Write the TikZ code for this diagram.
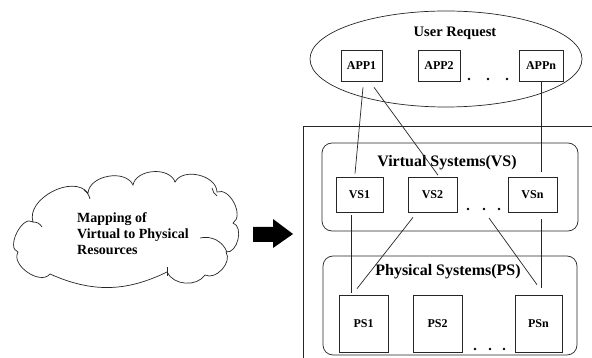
\documentclass[tikz,border=0pt]{standalone}
\usepackage{fontspec}
\setmainfont{Liberation Serif}
\usetikzlibrary{shapes.symbols,shapes.geometric,calc}
\tikzset{
  ln/.style={line width=0.7pt, draw=black!85},
  box/.style={draw=black!85, line width=0.7pt, rectangle, inner sep=0pt, font=\bfseries\fontsize{12}{14}\selectfont},
  grp/.style={draw=black!85, line width=0.7pt, rectangle, rounded corners=10pt, inner sep=0pt},
  ttl/.style={inner sep=0pt, font=\bfseries\fontsize{16}{18}\selectfont},
  dotf/.style={fill=black, circle, inner sep=0pt, minimum size=2.6pt},
}
\begin{document}
\begin{tikzpicture}[x=1pt,y=-1pt]
\clip (0,0) rectangle (592,358);
\fill[white] (0,0) rectangle (592,358);
% outer frame
\draw[ln] (303,420) -- (303,126) -- (640,126);
% user request ellipse
\node[draw=black!85, line width=0.7pt, ellipse, minimum width=272pt, minimum height=96pt, inner sep=0pt] (ur) at (446,59) {};
\node[inner sep=0pt, font=\bfseries\fontsize{14.5}{16}\selectfont] (urt) at (455,33) {User Request};
\node[box, minimum width=41pt, minimum height=31pt] (app1) at (361.5,65.5) {APP1};
\node[box, minimum width=42pt, minimum height=31pt] (app2) at (439,65.5) {APP2};
\node[box, minimum width=44pt, minimum height=31pt] (appn) at (541,65.5) {APPn};
\node[dotf] (ad1) at (469,79) {};
\node[dotf] (ad2) at (488,79) {};
\node[dotf] (ad3) at (507,79) {};
% virtual systems
\node[grp, minimum width=256pt, minimum height=88pt] (vsg) at (450,187) {};
\node[ttl] (vst) at (447,163) {Virtual Systems(VS)};
\node[box, minimum width=47pt, minimum height=35pt] (vs1) at (359.5,194.5) {VS1};
\node[box, minimum width=49pt, minimum height=35pt] (vs2) at (432.5,194.5) {VS2};
\node[box, minimum width=49pt, minimum height=35pt] (vsn) at (532.5,194.5) {VSn};
\node[dotf] (vd1) at (468,209) {};
\node[dotf] (vd2) at (484,209) {};
\node[dotf] (vd3) at (499,209) {};
% physical systems
\node[grp, minimum width=254pt, minimum height=99pt] (psg) at (450,305.5) {};
\node[ttl] (pst) at (448,272) {Physical Systems(PS)};
\node[box, minimum width=49pt, minimum height=57pt] (ps1) at (363.5,323.5) {PS1};
\node[box, minimum width=49pt, minimum height=57pt] (ps2) at (437.5,323.5) {PS2};
\node[box, minimum width=47pt, minimum height=57pt] (psn) at (538.5,323.5) {\raisebox{-5pt}{PSn}};
\node[dotf] (pd1) at (475,349) {};
\node[dotf] (pd2) at (490,349) {};
\node[dotf] (pd3) at (504,349) {};
% connectors
\draw[ln] ([xshift=1.5pt,yshift=-6pt]app1.south) -- ([xshift=-4.5pt,yshift=3pt]vs1.north);
\draw[ln] ([xshift=12.5pt,yshift=-6pt]app1.south) -- ([xshift=5.5pt,yshift=1.5pt]vs2.north);
\draw[ln] ([yshift=-1pt]appn.south) -- ([xshift=8.5pt,yshift=5pt]vsn.north);
\draw[ln] ([xshift=-8.5pt,yshift=-3pt]vs1.south) -- ([xshift=-12.5pt,yshift=2pt]ps1.north);
\draw[ln] ([xshift=-19.5pt,yshift=-5pt]vs2.south) -- ([xshift=-6.5pt,yshift=6pt]ps1.north);
\draw[ln] ([xshift=5pt,yshift=-9pt]vd2.center) -- ([xshift=-1.5pt,yshift=10pt]psn.north);
\draw[ln] ([xshift=8.5pt,yshift=-7pt]vsn.south) -- ([xshift=2.5pt,yshift=7pt]psn.north);
% cloud
\draw[ln] (18,252) to[bend left=100] (33,222) to[bend left=80] (88,193)
  to[bend left=75] (133,185) to[bend left=75] (175,182) to[bend left=75] (217,192)
  to[bend left=85] (233,223) to[bend left=85] (226,252) to[bend left=75] (205,275)
  to[bend left=60] (167,272) to[bend left=25] (50,274) to[bend left=85] cycle;
\draw[ln] (200,238) to[bend left=40] (227,252);
\draw[ln] (167,267) -- (167,276);
\draw[ln] (212,188) to[bend right=20] (217,196);
\draw[ln] (33,222) to[bend left=30] (42,227);
\draw[ln] (84,190) to[bend left=20] (90,199);
\node[inner sep=0pt, align=left, anchor=west, font=\bfseries\fontsize{14}{16}\selectfont] (cldt) at (77,234) {Mapping of\\Virtual to Physical\\Resources};
% block arrow
\fill[black] (253,227) -- (273,227) -- (273,219) -- (293,234) -- (273,248) -- (273,242) -- (253,242) -- cycle;
\end{tikzpicture}
\end{document}
